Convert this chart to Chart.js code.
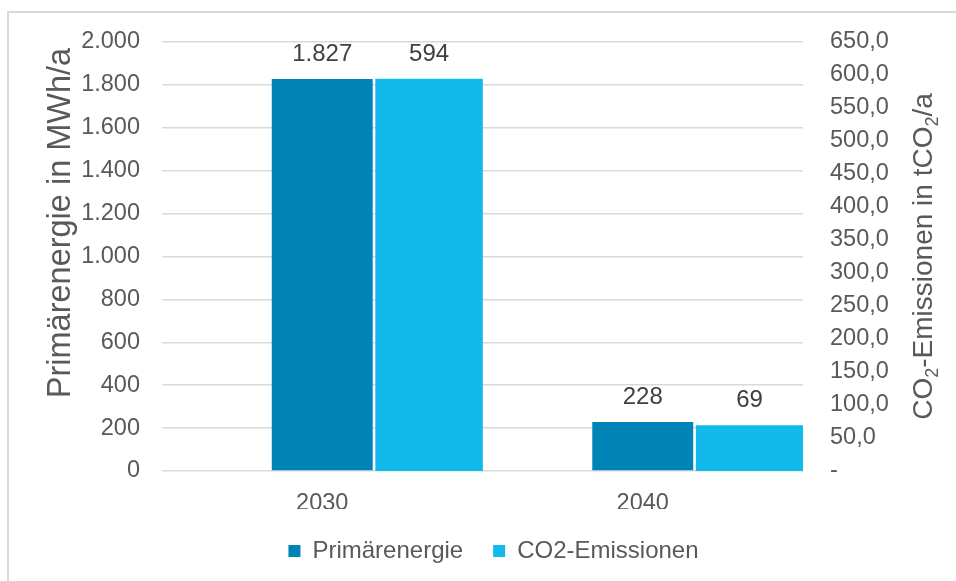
<!DOCTYPE html>
<html>
<head>
<meta charset="utf-8">
<script src="https://cdn.jsdelivr.net/npm/chart.js@4.4.1/dist/chart.umd.min.js"></script>
<style>
    html, body { margin: 0; padding: 0; background: #fff; }
    canvas { display: block; }
</style>
</head>
<body>
<canvas id="energy-chart" width="956" height="581"></canvas>
<script>
// data
const years = ['2030', '2040'];
const primaryEnergy = [1827, 228];   // MWh/a  -> left axis
const co2Emissions = [594, 69];      // tCO2/a -> right axis
const seriesNames = ['Primärenergie', 'CO2-Emissionen'];
const leftAxisTitle = 'Primärenergie in MWh/a';
const rightAxisTitle = [['CO', false], ['2', true], ['-Emissionen in tCO', false], ['2', true], ['/a', false]];
const leftMax = 2000, leftStep = 200;
const rightMax = 650, rightStep = 50;

const FONT = "'Liberation Sans', Arial, sans-serif";
const TEXT = '#595959';

const fmtThousands = v => String(Math.round(v)).replace(/\B(?=(\d{3})+(?!\d))/g, '.');
const fmtDecimal = v => v === 0 ? '-' : v.toFixed(1).replace('.', ',');

/**
 * frame, value labels, axis titles
 */
const chartDecor = {
    id: 'chartDecor',
    beforeDraw(chart) {
        const ctx = chart.ctx;
        ctx.save();
        ctx.strokeStyle = '#d9d9d9';
        ctx.lineWidth = 2;
        ctx.beginPath();
        ctx.moveTo(8, chart.height);
        ctx.lineTo(8, 12);
        ctx.lineTo(chart.width, 12);
        ctx.stroke();
        ctx.restore();
    },
    afterDatasetsDraw(chart) {
        const ctx = chart.ctx;
        ctx.save();
        ctx.font = '24px ' + FONT;
        ctx.fillStyle = '#404040';
        ctx.textAlign = 'center';
        ctx.textBaseline = 'middle';
        [1, 2].forEach(i => {
            const meta = chart.getDatasetMeta(i);
            meta.data.forEach((bar, j) => {
                ctx.fillText(fmtThousands(chart.data.datasets[i].data[j]), bar.x, bar.y - 25);
            });
        });
        ctx.restore();
    },
    afterDraw(chart) {
        const ctx = chart.ctx;
        const area = chart.chartArea;

        // left title
        ctx.save();
        ctx.fillStyle = TEXT;
        ctx.font = '32.5px ' + FONT;
        ctx.textBaseline = 'alphabetic';
        ctx.textAlign = 'center';
        ctx.translate(70, 223);
        ctx.rotate(-Math.PI / 2);
        ctx.fillText(leftAxisTitle, 0, 0);
        ctx.restore();

        // right title with subscripts
        const mainFont = '28px ' + FONT, subFont = '18px ' + FONT;
        ctx.save();
        ctx.fillStyle = TEXT;
        ctx.textBaseline = 'alphabetic';
        ctx.textAlign = 'left';
        let total = 0;
        rightAxisTitle.forEach(([t, sub]) => {
            ctx.font = sub ? subFont : mainFont;
            total += ctx.measureText(t).width;
        });
        ctx.translate(932, (area.top + area.bottom) / 2);
        ctx.rotate(-Math.PI / 2);
        let x = -total / 2;
        rightAxisTitle.forEach(([t, sub]) => {
            ctx.font = sub ? subFont : mainFont;
            ctx.fillText(t, x, sub ? 6 : 0);
            x += ctx.measureText(t).width;
        });
        ctx.restore();
    }
};

const tickFont = { family: FONT, size: 23.5 };

new Chart(document.getElementById('energy-chart'), {
    type: 'bar',
    data: {
        labels: years,
        datasets: [
            {
                // empty slot so the primary bar sits in the middle of its category
                label: '',
                data: years.map(() => null),
                yAxisID: 'y',
                backgroundColor: 'rgba(0,0,0,0)',
                categoryPercentage: 1.0,
                barPercentage: 1.0
            },
            {
                label: seriesNames[0],
                data: primaryEnergy,
                yAxisID: 'y',
                backgroundColor: '#0083B5',
                borderWidth: 0,
                categoryPercentage: 1.0,
                barPercentage: 0.945
            },
            {
                label: seriesNames[1],
                data: co2Emissions,
                yAxisID: 'y1',
                backgroundColor: '#12BAEC',
                borderWidth: 0,
                categoryPercentage: 1.0,
                barPercentage: 1.0
            }
        ]
    },
    options: {
        responsive: false,
        animation: false,
        layout: {
            padding: { left: 31, right: 0, top: 42, bottom: 8 }
        },
        plugins: {
            tooltip: { enabled: false },
            legend: {
                position: 'bottom',
                labels: {
                    filter: item => item.datasetIndex !== 0,
                    color: TEXT,
                    font: { family: FONT, size: 24 },
                    boxWidth: 12,
                    boxHeight: 12,
                    padding: 30
                }
            }
        },
        scales: {
            x: {
                grid: { display: false, drawTicks: false },
                border: { display: false },
                ticks: { color: TEXT, font: tickFont, padding: 18 },
                afterFit: s => { s.height = 38; }
            },
            y: {
                position: 'left',
                min: 0,
                max: leftMax,
                ticks: {
                    stepSize: leftStep,
                    autoSkip: false,
                    padding: 22,
                    color: TEXT,
                    font: tickFont,
                    callback: v => fmtThousands(v)
                },
                grid: { color: '#d9d9d9', lineWidth: 1.5, drawTicks: false },
                border: { display: false },
                afterFit: s => { s.width = 131; }
            },
            y1: {
                position: 'right',
                min: 0,
                max: rightMax,
                ticks: {
                    stepSize: rightStep,
                    autoSkip: false,
                    padding: 27,
                    color: TEXT,
                    font: tickFont,
                    callback: v => fmtDecimal(v)
                },
                grid: { display: false, drawTicks: false },
                border: { display: false },
                afterFit: s => { s.width = 153; }
            }
        }
    },
    plugins: [chartDecor]
});
</script>
</body>
</html>
